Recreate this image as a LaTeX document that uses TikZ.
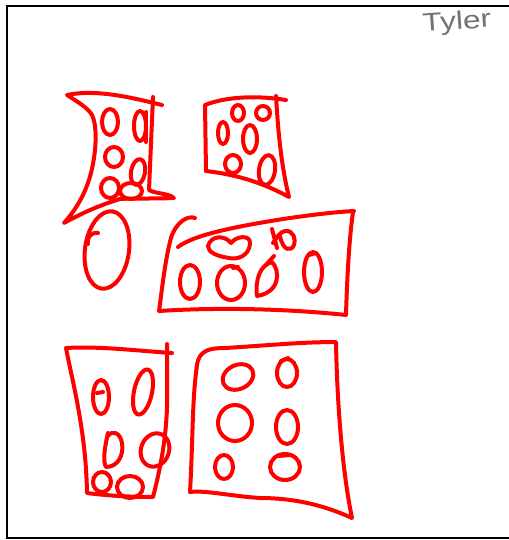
\documentclass[tikz,border=0pt]{standalone}
\usepackage{fontspec}
\setmainfont{Liberation Sans}
\begin{document}
\begin{tikzpicture}[x=0.75pt,y=0.75pt,yscale=-1,
  mk/.style={draw=red, line width=3pt, line cap=round, line join=round},
  frm/.style={draw=black, line width=1.6pt}]
\useasboundingbox (0,0) rectangle (509,540);
\fill[white] (0,0) rectangle (509,540);
% frame
\draw[frm] (509,6) -- (7,6) -- (7,538) -- (509,538);
% name
\node[text=black!55, rotate=4, inner sep=0pt] (name) at (457,23) {\fontsize{19}{19}\selectfont\scalebox{1.25}[1]{Tyler}};

% ---- shape 1 (funnel)
\draw[mk] (162,105) .. controls (130,97) and (95,89) .. (67,95)
  .. controls (78,102) and (88,108) .. (92,115)
  .. controls (97,125) and (96,145) .. (94,158)
  .. controls (90,185) and (80,205) .. (64,223)
  .. controls (80,214) and (100,205) .. (120,199)
  .. controls (135,198) and (150,199) .. (174,198)
  .. controls (168,193) and (156,194) .. (149,190)
  -- (153,97);
\draw[mk] (110,122) ellipse [x radius=8, y radius=13];
\draw[mk] (140,126) ellipse [x radius=6, y radius=15];
\draw[mk] (146,112) -- (146,142);
\draw[mk] (114,157) ellipse [x radius=9, y radius=10];
\draw[mk, rotate around={10:(138,172)}] (138,172) ellipse [x radius=7, y radius=13];
\draw[mk] (110,188) ellipse [x radius=9, y radius=10];
\draw[mk] (131,191) ellipse [x radius=11, y radius=8];
% big oval
\draw[mk, rotate around={8:(107,250)}] (107,250) ellipse [x radius=22, y radius=39];
\draw[mk] (88,244) .. controls (87,237) and (91,232) .. (98,233);

% ---- shape 2
\draw[mk] (206,171) -- (205,105)
  .. controls (225,97) and (255,95) .. (286,100);
\draw[mk] (276,96) .. controls (278,130) and (281,165) .. (289,197)
  .. controls (265,184) and (240,175) .. (206,171);
\draw[mk] (223,133) ellipse [x radius=5, y radius=11];
\draw[mk] (238,113) ellipse [x radius=6, y radius=8];
\draw[mk] (263,113) ellipse [x radius=7, y radius=7];
\draw[mk] (250,139) ellipse [x radius=7, y radius=14];
\draw[mk] (233,164) ellipse [x radius=8, y radius=9];
\draw[mk, rotate around={8:(267,170)}] (267,170) ellipse [x radius=8, y radius=15];

% ---- shape 3
\draw[mk] (178,247) .. controls (195,234) and (240,226) .. (283,219)
  .. controls (310,215) and (335,212) .. (354,211);
\draw[mk] (195,218) .. controls (188,215) and (176,222) .. (171,238)
  .. controls (165,260) and (162,290) .. (159,311)
  .. controls (220,307) and (290,309) .. (346,315)
  .. controls (347,280) and (349,240) .. (353,212);
\draw[mk] (208,246) .. controls (211,235) and (225,235) .. (231,243)
  .. controls (236,236) and (251,234) .. (250,244)
  .. controls (249,256) and (237,260) .. (229,258)
  .. controls (216,256) and (208,252) .. cycle;
\draw[mk] (272,229) -- (277,248);
\draw[mk] (273,243) .. controls (278,236) and (280,232) .. (285,231)
  .. controls (294,230) and (296,240) .. (294,245)
  .. controls (291,252) and (283,251) .. (280,236);
\draw[mk] (190,282) ellipse [x radius=10, y radius=17];
\draw[mk] (231,283) ellipse [x radius=14, y radius=17];
\draw[mk] (233,268) -- (238,267);
\draw[mk] (257,296) .. controls (255,280) and (260,265) .. (272,262)
  .. controls (280,270) and (281,292) .. cycle;
\draw[mk] (266,265) -- (274,256);
\draw[mk] (313,272) ellipse [x radius=9, y radius=20];
\draw[mk] (309,255) -- (316,253);

% ---- shape 4
\draw[mk] (172,353) .. controls (140,351) and (100,346) .. (66,348)
  .. controls (72,380) and (86,430) .. (87,493)
  .. controls (110,496) and (135,497) .. (153,497)
  .. controls (160,470) and (166,440) .. (167,407)
  -- (167,344);
\draw[mk] (101,397) ellipse [x radius=8, y radius=17];
\draw[mk] (97,393) -- (103,392);
\draw[mk, rotate around={12:(143,392)}] (143,392) ellipse [x radius=9, y radius=23];
\draw[mk] (108,433) .. controls (104,450) and (103,462) .. (106,467)
  .. controls (118,467) and (124,455) .. (122,443)
  .. controls (120,432) and (112,430) .. (108,436);
\draw[mk, rotate around={20:(155,450)}] (155,450) ellipse [x radius=14, y radius=17];
\draw[mk] (102,482) ellipse [x radius=9, y radius=10];
\draw[mk] (130,487) ellipse [x radius=13, y radius=11];

% ---- shape 5
\draw[mk] (190,492) .. controls (193,440) and (192,400) .. (197,365)
  .. controls (199,350) and (210,348) .. (225,348)
  .. controls (260,346) and (300,342) .. (336,342)
  .. controls (337,400) and (342,470) .. (352,518)
  .. controls (330,508) and (300,498) .. (260,498)
  .. controls (230,496) and (205,490) .. (190,492);
\draw[mk, rotate around={-25:(238,377)}] (238,377) ellipse [x radius=16, y radius=12];
\draw[mk] (287,373) ellipse [x radius=10, y radius=14];
\draw[mk] (281,361) -- (288,358);
\draw[mk] (235,423) ellipse [x radius=17, y radius=18];
\draw[mk] (287,427) ellipse [x radius=11, y radius=17];
\draw[mk] (224,467) ellipse [x radius=9, y radius=12];
\draw[mk] (285,467) ellipse [x radius=15, y radius=13];
\draw[mk] (278,456) -- (290,455);
\end{tikzpicture}
\end{document}
